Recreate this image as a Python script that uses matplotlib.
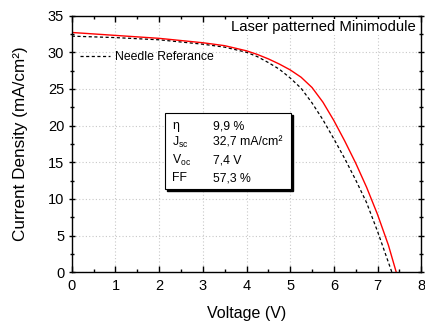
import matplotlib.pyplot as plt
from matplotlib.patches import Rectangle
from matplotlib.ticker import MultipleLocator

plt.rcParams['font.family'] = ['Liberation Sans', 'DejaVu Sans']

# J-V curves
v_laser = [0, 1, 2, 3, 3.5, 4.0, 4.25, 4.5, 4.75, 5.0, 5.25, 5.5, 5.75, 6.0, 6.25, 6.5, 6.75, 7.0, 7.25, 7.43]
j_laser = [32.7, 32.3, 31.9, 31.3, 30.9, 30.2, 29.7, 29.1, 28.4, 27.6, 26.6, 25.2, 23.2, 20.7, 17.9, 14.9, 11.6, 7.9, 3.7, 0.0]

v_needle = [0, 1, 2, 3, 3.5, 4.0, 4.25, 4.5, 4.75, 5.0, 5.25, 5.5, 5.75, 6.0, 6.25, 6.5, 6.75, 7.0, 7.2, 7.33]
j_needle = [32.2, 32.0, 31.7, 31.1, 30.7, 30.0, 29.4, 28.6, 27.7, 26.5, 25.1, 23.1, 20.8, 18.2, 15.5, 12.6, 9.5, 5.6, 2.2, 0.0]

params = ["η", r"J$_\mathregular{sc}$", r"V$_\mathregular{oc}$", "FF"]
param_values = ["9,9 %", "32,7 mA/cm²", "7,4 V", "57,3 %"]

fig = plt.figure(figsize=(4.25, 3.25), dpi=100)
ax = fig.add_axes([0.169, 0.162, 0.822, 0.79])

ax.plot(v_needle, j_needle, color='black', linestyle=(0, (2.5, 2)), linewidth=0.9, label='Needle Referance')
ax.plot(v_laser, j_laser, color='red', linewidth=1.0)

ax.set_xlim(0, 8)
ax.set_ylim(0, 35)
ax.xaxis.set_major_locator(MultipleLocator(1))
ax.xaxis.set_minor_locator(MultipleLocator(0.5))
ax.yaxis.set_major_locator(MultipleLocator(5))
ax.yaxis.set_minor_locator(MultipleLocator(2.5))
ax.grid(True, which='major', color='#c8c8c8', linestyle=(0, (1, 2)), linewidth=0.8)

ax.tick_params(axis='both', which='major', labelsize=10.5, width=1, length=4, top=True, right=True)
ax.tick_params(axis='both', which='minor', width=1, length=2.5, top=True, right=True)
ax.tick_params(axis='x', which='both', direction='in')
ax.tick_params(axis='x', which='major', pad=5)
ax.yaxis.set_tick_params(which='both', direction='inout')
for s in ax.spines.values():
    s.set_linewidth(1.0)

ax.set_xlabel("Voltage (V)", fontsize=11.5, labelpad=9)
ax.set_ylabel("Current Density (mA/cm²)", fontsize=12.3, labelpad=14)

ax.legend(loc='upper left', bbox_to_anchor=(0.0, 0.895), frameon=False, fontsize=8.8,
          handlelength=2.4, handletextpad=0.4, borderaxespad=0.3)

ax.text(0.985, 0.955, "Laser patterned Minimodule", transform=ax.transAxes, ha='right', va='center',
        fontsize=10.7, bbox=dict(facecolor='white', edgecolor='none', pad=1))

# parameter box with shadow
ax.add_patch(Rectangle((0.272, 0.318), 0.36, 0.296, transform=ax.transAxes,
                       facecolor='black', edgecolor='black', zorder=4))
ax.add_patch(Rectangle((0.266, 0.325), 0.36, 0.296, transform=ax.transAxes,
                       facecolor='white', edgecolor='black', linewidth=0.8, zorder=5))
row_y = [0.570, 0.505, 0.437, 0.367]
for name, val, y in zip(params, param_values, row_y):
    ax.text(0.287, y, name, transform=ax.transAxes, fontsize=8.8, va='center', zorder=6)
    ax.text(0.405, y, val, transform=ax.transAxes, fontsize=8.8, va='center', zorder=6)

fig.savefig("out.png", dpi=100)
